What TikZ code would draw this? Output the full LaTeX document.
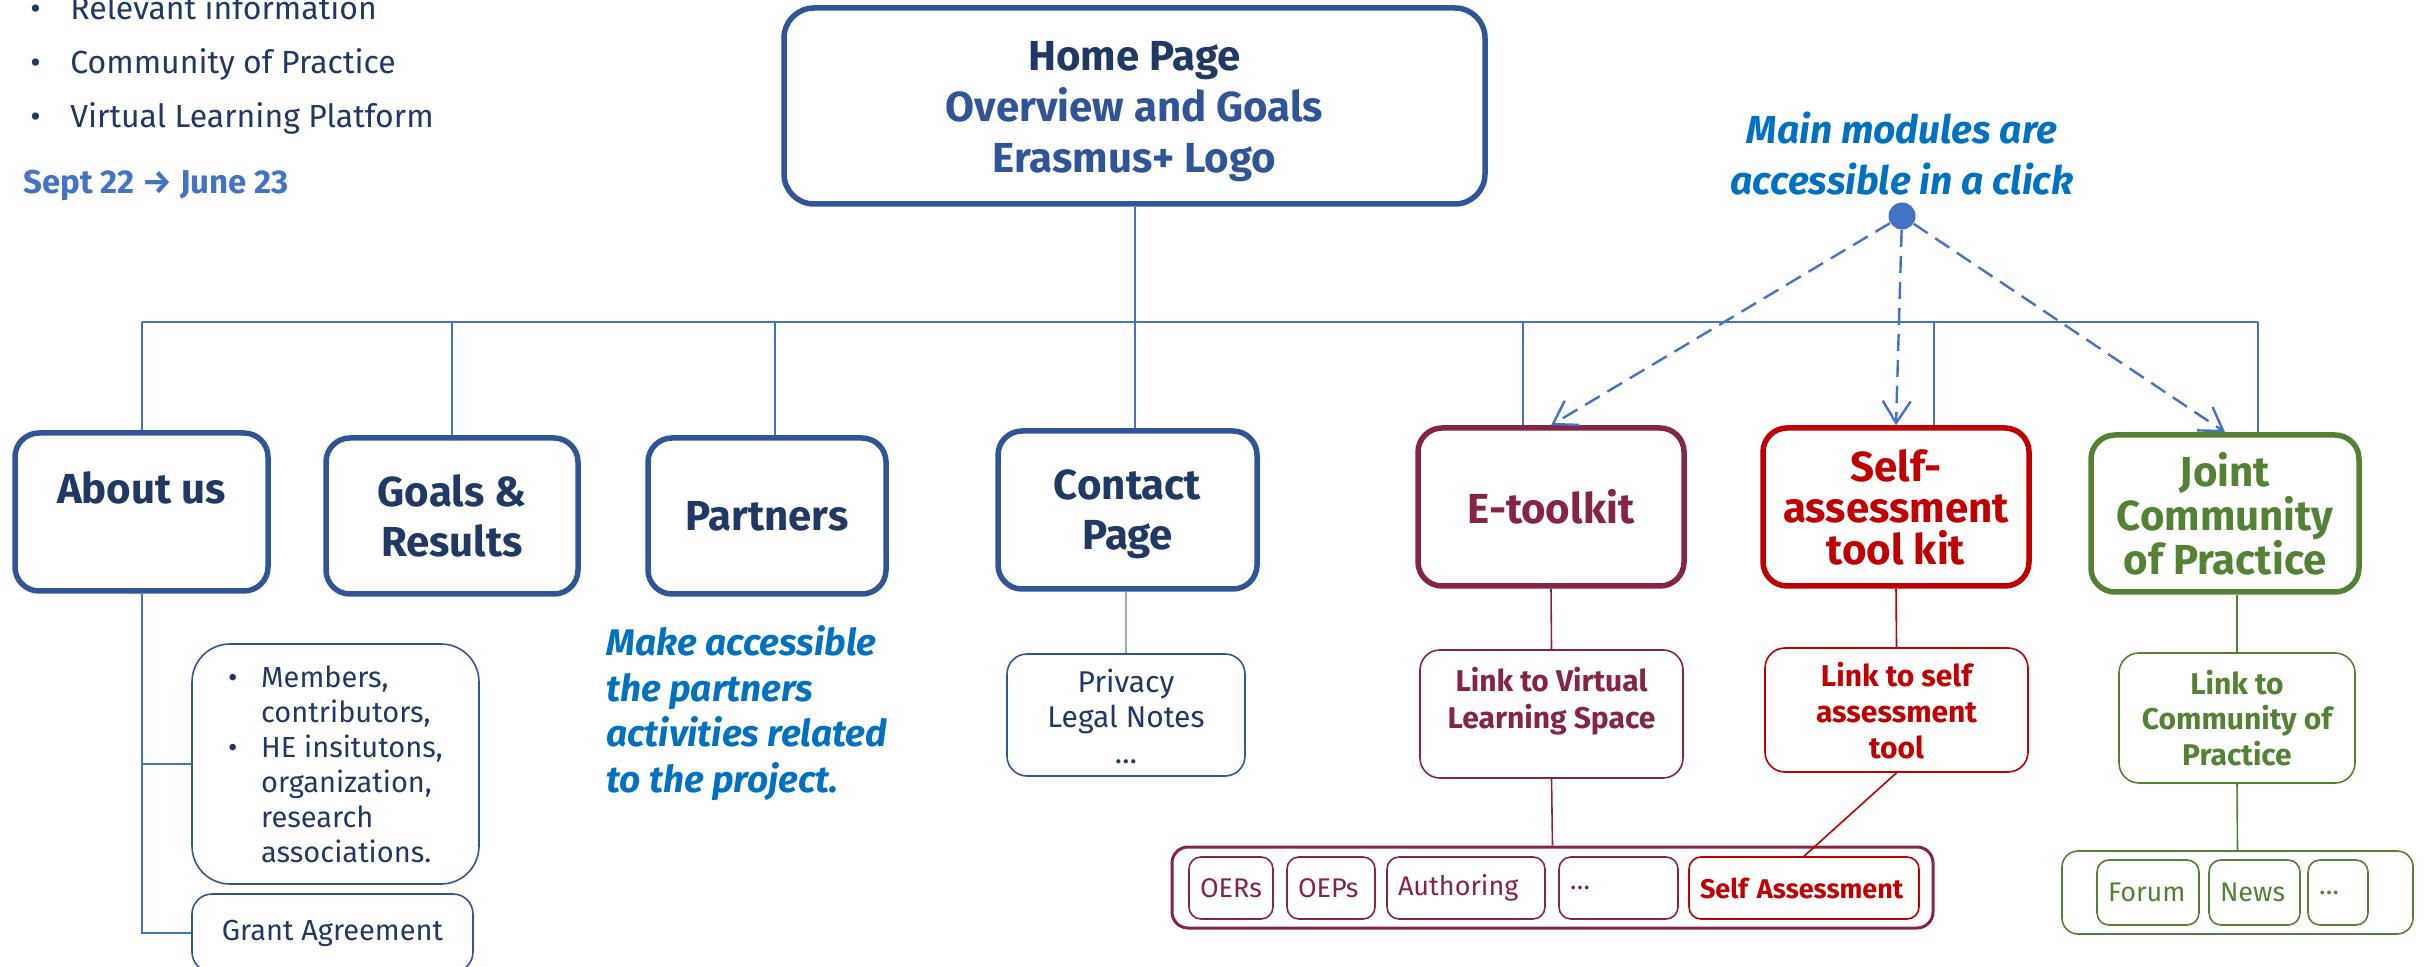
\documentclass[tikz,border=0pt]{standalone}
\usepackage{fontspec}
\setmainfont{Fira Sans}
\usetikzlibrary{arrows.meta}
\definecolor{navy}{HTML}{1F3864}
\definecolor{bborder}{HTML}{2F5597}
\definecolor{lblue}{HTML}{4472C4}
\definecolor{accent}{HTML}{0070C0}
\definecolor{maroon}{HTML}{862446}
\definecolor{dred}{HTML}{C00000}
\definecolor{dgreen}{HTML}{548235}
\definecolor{paleblue}{HTML}{8FAADC}
\newcommand{\fsz}[2]{\fontsize{#1}{#2}\selectfont}
\tikzset{
  x=0.5pt,y=-0.5pt,
  bigbox/.style={draw, line width=2.75pt, rounded corners=12pt, align=center, inner sep=0pt, font=\bfseries\fsz{21}{25}},
  subbox/.style={draw, line width=0.8pt, rounded corners=10pt, align=center, inner sep=0pt, font=\bfseries\fsz{15}{18.5}},
  chip/.style={draw, line width=0.8pt, rounded corners=6pt, inner xsep=5.5pt, inner ysep=0pt, align=left, font=\fsz{13.5}{16}},
  busline/.style={lblue, line width=1pt},
  thinline/.style={line width=0.8pt},
  click/.style={lblue, line width=1.2pt, dash pattern=on 8.5pt off 4.5pt, -{Straight Barb[length=11pt,width=14pt]}},
  note/.style={accent, font=\bfseries\itshape\fsz{19.5}{25.5}, align=center, inner sep=0pt},
}
\begin{document}
\begin{tikzpicture}
\useasboundingbox (0,0) rectangle (2425,967);
% top-left notes
\node[anchor=west, inner sep=0pt, align=left, text=navy, font=\fsz{16}{27}] (list) at (30,64)
  {\makebox[20pt][l]{•}Relevant information\\ \makebox[20pt][l]{•}Community of Practice\\ \makebox[20pt][l]{•}Virtual Learning Platform};
\node[anchor=west, inner sep=0pt, text=lblue, font=\bfseries\fsz{16.5}{20}] (dates) at (23,185) {Sept 22 → June 23};
% home
\node[bigbox, draw=bborder, rounded corners=15pt, minimum width=350.5pt, minimum height=98pt, font=\bfseries\fsz{21}{25.5}] (home) at (1134.5,106)
  {\textcolor{navy}{\rule{0pt}{20.5pt}Home Page}\\ \textcolor{bborder}{Overview and Goals}\\ \textcolor{bborder}{Erasmus+ Logo}};
% click note
\node[note] (mm) at (1902,153.5) {Main modules are\\accessible in a click};
\node[circle, fill=lblue, inner sep=0pt, minimum size=13.5pt] (dot) at (1902,216) {};
% main boxes
\node[bigbox, draw=bborder, text=navy, minimum width=126.5pt, minimum height=79pt] (about) at (141.5,512) {\rule{0pt}{17pt}About us\\\mbox{}};
\node[bigbox, draw=bborder, text=navy, minimum width=126pt, minimum height=78pt] (goals) at (452,516) {Goals \&\\Results};
\node[bigbox, draw=bborder, text=navy, minimum width=119pt, minimum height=78pt] (partners) at (767,516) {Partners};
\node[bigbox, draw=bborder, text=navy, minimum width=129.5pt, minimum height=79pt] (contact) at (1127.5,510) {\rule{0pt}{19.5pt}Contact\\Page};
\node[bigbox, draw=maroon, text=maroon, minimum width=133pt, minimum height=79pt] (etk) at (1551,507) {E-toolkit};
\node[bigbox, draw=dred, text=dred, minimum width=133pt, minimum height=79pt, font=\bfseries\fsz{21}{20.75}] (sat) at (1896,507) {Self-\\assessment\\tool kit};
\node[bigbox, draw=dgreen, text=dgreen, minimum width=134pt, minimum height=78.5pt, font=\bfseries\fsz{21}{22}] (joint) at (2225,513.5) {Joint\\Community\\of Practice};
% bus
\coordinate (bL) at (142,322);
\coordinate (bG) at (452,322);
\coordinate (bP) at (775,322);
\coordinate (bE) at (1523,322);
\coordinate (bS) at (1934,322);
\coordinate (bR) at (2258,322);
\draw[busline] (bL) -- (bR);
\draw[busline] (bL) -- (bL |- about.north);
\draw[busline] (bG) -- (bG |- goals.north);
\draw[busline] (bP) -- (bP |- partners.north);
\draw[busline] (home.south) -- (home.south |- contact.north);
\draw[busline] (bE) -- (bE |- etk.north);
\draw[busline] (bS) -- (bS |- sat.north);
\draw[busline] (bR) -- (bR |- joint.north);
% click arrows
\draw[click] (dot) -- (etk.north);
\draw[click] (dot) -- (sat.north);
\draw[click] (dot) -- (joint.north);
% about sub
\node[subbox, draw=bborder, text=navy, rounded corners=19pt, minimum width=143.5pt, minimum height=120pt, align=left, font=\fsz{14.5}{17.5}] (members) at (335.5,764)
  {\makebox[16.5pt][l]{•}Members,\\ \hspace*{16.5pt}contributors,\\ \makebox[16.5pt][l]{•}HE insitutons,\\ \hspace*{16.5pt}organization,\\ \hspace*{16.5pt}research\\ \hspace*{16.5pt}associations.};
\node[subbox, draw=bborder, text=navy, minimum width=140.5pt, minimum height=39pt, font=\fsz{14.5}{17.5}] (grant) at (332.5,933) {\raisebox{3pt}{Grant Agreement}};
\draw[busline] (about.south) |- (grant.west);
\draw[busline] (about.south |- members.west) -- (members.west);
% contact sub
\node[subbox, draw=bborder, text=navy, minimum width=119pt, minimum height=61pt, font=\fsz{15}{17.75}] (privacy) at (1126,715) {\rule{0pt}{13pt}Privacy\\Legal Notes\\…};
\draw[paleblue, thinline] (privacy.north |- contact.south) -- (privacy.north);
% partners note
\node[anchor=west, accent, font=\bfseries\itshape\fsz{18.5}{22.75}, align=left, inner sep=0pt] (pnote) at (606,713)
  {Make accessible\\the partners\\activities related\\to the project.};
% e-toolkit sub
\node[subbox, draw=maroon, text=maroon, minimum width=131.5pt, minimum height=64pt] (vls) at (1551.5,714) {\rule{0pt}{14pt}Link to Virtual\\Learning Space\\\mbox{}};
\node[draw=maroon, line width=1.5pt, rounded corners=8pt, minimum width=380.5pt, minimum height=40.5pt, inner sep=0pt] (cont) at (1552.5,887.5) {};
\node[chip, draw=maroon, text=maroon, text width=31pt, minimum height=31pt] (oers) at (1231,888) {OERs};
\node[chip, draw=maroon, text=maroon, text width=33pt, minimum height=31pt] (oeps) at (1331,888) {OEPs};
\node[chip, draw=maroon, text=maroon, text width=68pt, minimum height=31pt] (auth) at (1466,888) {Authoring};
\node[chip, draw=maroon, text=maroon, text width=48.5pt, minimum height=31pt] (mdots) at (1618.5,888) {…};
\node[chip, draw=dred, text=dred, text width=104pt, minimum height=31pt, font=\bfseries\fsz{13.5}{16}] (sass) at (1804,888) {Self Assessment};
\draw[maroon, thinline] (etk.south) -- (vls.north);
\draw[maroon, thinline] (vls.south) -- (cont.north);
% self-assessment sub
\node[subbox, draw=dred, text=dred, minimum width=131.5pt, minimum height=62pt, font=\bfseries\fsz{15}{18}] (slink) at (1896.5,710) {\rule{0pt}{13pt}Link to self\\assessment\\tool};
\draw[dred, thinline] (sat.south) -- (slink.north);
\draw[dred, thinline] (slink.south) -- (sass.north);
% joint sub
\node[subbox, draw=dgreen, text=dgreen, minimum width=118pt, minimum height=65pt, font=\bfseries\fsz{15}{17.75}] (jlink) at (2237,718) {Link to\\Community of\\Practice};
\draw[dgreen, thinline] (jlink.north |- joint.south) -- (jlink.north);
\node[draw=dgreen, line width=0.8pt, rounded corners=8pt, minimum width=175.5pt, minimum height=41.5pt, inner sep=0pt] (gcont) at (2237.5,892.5) {};
\draw[dgreen, thinline] (jlink.south) -- (gcont.north);
\node[chip, draw=dgreen, text=dgreen, text width=40pt, minimum height=32.5pt] (forum) at (2148,892.5) {Forum};
\node[chip, draw=dgreen, text=dgreen, text width=34.5pt, minimum height=32.5pt] (news) at (2254.5,892.5) {News};
\node[chip, draw=dgreen, text=dgreen, text width=19pt, minimum height=32.5pt] (gdots) at (2338,892.5) {…};
\end{tikzpicture}
\end{document}
